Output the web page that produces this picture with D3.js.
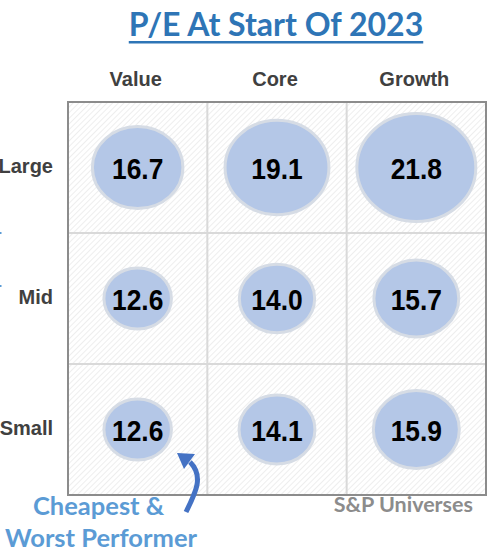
<!DOCTYPE html>
<html>
<head>
<meta charset="utf-8">
<script src="https://cdn.jsdelivr.net/npm/d3@7"></script>
<style>
  html, body { margin: 0; padding: 0; background: #fff; }
  svg { display: block; }
</style>
</head>
<body>
<script>
// ---- data ----
const columns = ["Value", "Core", "Growth"];
const rows = ["Large", "Mid", "Small"];
const largeValues = [16.7, 19.1, 21.8];
const midValues = [12.6, 14.0, 15.7];
const smallValues = [12.6, 14.1, 15.9];
const titleText = "P/E At Start Of 2023";
const noteLines = ["Cheapest &", "Worst Performer"];
const sourceText = "S&P Universes";

const W = 499, H = 560;
const svg = d3.select("body").append("svg").attr("width", W).attr("height", H);

const defs = svg.append("defs");
const pat = defs.append("pattern")
  .attr("id", "hatch").attr("patternUnits", "userSpaceOnUse")
  .attr("width", 4).attr("height", 4)
  .attr("patternTransform", "rotate(45)");
pat.append("rect").attr("width", 4).attr("height", 4).attr("fill", "#ffffff");
pat.append("line").attr("x1", 0).attr("y1", 0).attr("x2", 0).attr("y2", 4)
  .attr("stroke", "#e4e4e4").attr("stroke-width", 1.2);

const x = d3.scaleBand().domain(columns).range([68, 486]);
const y = d3.scaleBand().domain(rows).range([102, 495]);
const rx = d3.scaleLinear().domain([0, 21.8]).range([0, 61]);
const ry = d3.scaleLinear().domain([0, 21.8]).range([0, 55.5]);

const cells = [];
const series = { Large: largeValues, Mid: midValues, Small: smallValues };
rows.forEach(r => columns.forEach((c, i) => cells.push({ row: r, col: c, v: series[r][i] })));

// hatched background
svg.append("rect")
  .attr("x", x.range()[0]).attr("y", y.range()[0])
  .attr("width", x.range()[1] - x.range()[0]).attr("height", y.range()[1] - y.range()[0])
  .attr("fill", "url(#hatch)");

// inner grid lines
const grid = svg.append("g").attr("stroke", "#d9d9d9").attr("stroke-width", 2);
columns.slice(1).forEach(c => grid.append("line")
  .attr("x1", x(c)).attr("x2", x(c)).attr("y1", y.range()[0]).attr("y2", y.range()[1]));
rows.slice(1).forEach(r => grid.append("line")
  .attr("y1", y(r)).attr("y2", y(r)).attr("x1", x.range()[0]).attr("x2", x.range()[1]));

// outer border
svg.append("rect")
  .attr("x", x.range()[0]).attr("y", y.range()[0])
  .attr("width", x.range()[1] - x.range()[0]).attr("height", y.range()[1] - y.range()[0])
  .attr("fill", "none").attr("stroke", "#8c8c8c").attr("stroke-width", 2);

// bubbles
const g = svg.append("g");
g.selectAll("ellipse").data(cells).join("ellipse")
  .attr("cx", d => x(d.col) + x.bandwidth() / 2)
  .attr("cy", d => y(d.row) + y.bandwidth() / 2)
  .attr("rx", d => rx(d.v) - 1.5)
  .attr("ry", d => ry(d.v) - 1.5)
  .attr("fill", "#b4c7e7")
  .attr("stroke", "#d6dce5").attr("stroke-width", 3);

g.selectAll("text").data(cells).join("text")
  .attr("x", d => x(d.col) + x.bandwidth() / 2)
  .attr("y", d => y(d.row) + y.bandwidth() / 2 + 11)
  .attr("text-anchor", "middle")
  .attr("font-family", "Liberation Sans, Arial, sans-serif")
  .attr("font-weight", "bold").attr("font-size", 30)
  .attr("fill", "#000")
  .text(d => d.v.toFixed(1))
  .each(function () {
    const w = this.getComputedTextLength();
    d3.select(this).attr("textLength", w * 0.88).attr("lengthAdjust", "spacingAndGlyphs");
  });

// column headers
svg.append("g").selectAll("text").data(columns).join("text")
  .attr("x", d => x(d) + x.bandwidth() / 2 - 2)
  .attr("y", 86)
  .attr("text-anchor", "middle")
  .attr("font-family", "Liberation Sans, Arial, sans-serif")
  .attr("font-weight", "bold").attr("font-size", 20)
  .attr("fill", "#404040")
  .text(d => d);

// row headers
svg.append("g").selectAll("text").data(rows).join("text")
  .attr("x", 53)
  .attr("y", d => y(d) + y.bandwidth() / 2 + 5)
  .attr("text-anchor", "end")
  .attr("font-family", "Liberation Sans, Arial, sans-serif")
  .attr("font-weight", "bold").attr("font-size", 20)
  .attr("fill", "#404040")
  .text(d => d);

// small blue artifacts at left edge
svg.append("g").attr("fill", "#5b9bd5").selectAll("rect").data([232, 285]).join("rect")
  .attr("x", 0).attr("y", d => d).attr("width", 1.5).attr("height", 2);

// title
const title = svg.append("text")
  .attr("x", 276).attr("y", 36)
  .attr("text-anchor", "middle")
  .attr("font-family", "Lato, 'Open Sans', sans-serif")
  .attr("font-weight", "bold").attr("font-size", 32)
  .attr("fill", "#2e75b6")
  .text(titleText);
const tb = title.node().getBBox();
svg.append("rect").attr("x", tb.x).attr("y", 41).attr("width", tb.width).attr("height", 2.5)
  .attr("fill", "#2e75b6");

// note
svg.append("g").selectAll("text").data(noteLines).join("text")
  .attr("x", (d, i) => i === 0 ? 33 : 5)
  .attr("y", (d, i) => i === 0 ? 515 : 547)
  .attr("font-family", "Lato, 'Open Sans', sans-serif")
  .attr("font-weight", "bold").attr("font-size", 25.5)
  .attr("fill", "#5b9bd5")
  .text(d => d);

// source
svg.append("text")
  .attr("x", 473).attr("y", 512)
  .attr("text-anchor", "end")
  .attr("font-family", "Lato, 'Open Sans', sans-serif")
  .attr("font-weight", "bold").attr("font-size", 21.5)
  .attr("fill", "#8c8c8c")
  .text(sourceText);

// arrow
svg.append("path")
  .attr("d", "M186,512 C196,492 204,476 190,462")
  .attr("fill", "none").attr("stroke", "#4472c4").attr("stroke-width", 5);
svg.append("path")
  .attr("d", "M177,453 L195,454 L184,469 Z")
  .attr("fill", "#4472c4");
</script>
</body>
</html>
